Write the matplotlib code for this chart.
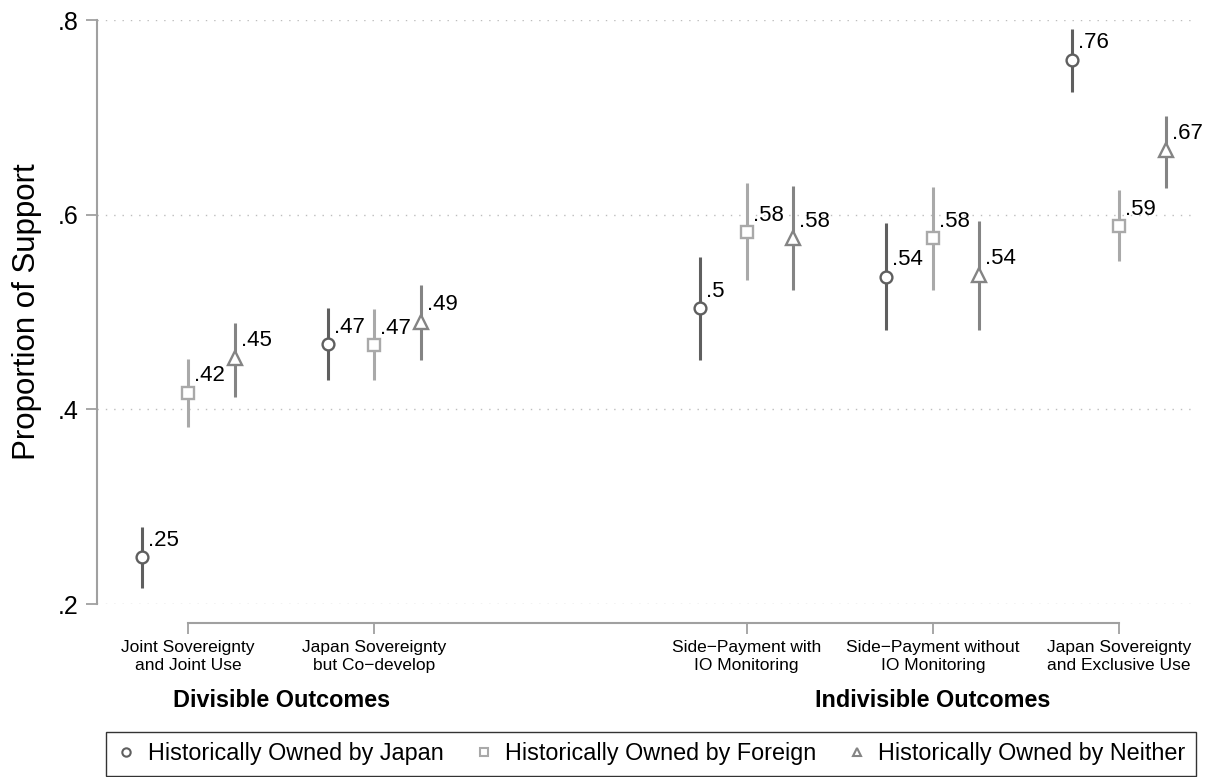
import matplotlib
matplotlib.use("Agg")
import matplotlib.pyplot as plt
from matplotlib.lines import Line2D
from matplotlib.transforms import blended_transform_factory

plt.rcParams['font.family'] = ['Liberation Sans', 'DejaVu Sans']

# Outcome categories and group headings
categories = ["Joint Sovereignty\nand Joint Use",
              "Japan Sovereignty\nbut Co\u2212develop",
              "Side\u2212Payment with\nIO Monitoring",
              "Side\u2212Payment without\nIO Monitoring",
              "Japan Sovereignty\nand Exclusive Use"]
group_names = ["Divisible Outcomes", "Indivisible Outcomes"]
series_names = ["Historically Owned by Japan",
                "Historically Owned by Foreign",
                "Historically Owned by Neither"]

# Estimated proportions with 95% confidence bounds
japan = [0.248, 0.467, 0.504, 0.536, 0.759]
japan_lo = [0.216, 0.430, 0.451, 0.482, 0.726]
japan_hi = [0.279, 0.504, 0.556, 0.591, 0.791]

foreign = [0.417, 0.466, 0.582, 0.576, 0.588]
foreign_lo = [0.382, 0.430, 0.533, 0.523, 0.552]
foreign_hi = [0.452, 0.503, 0.633, 0.628, 0.625]

neither = [0.453, 0.490, 0.576, 0.538, 0.666]
neither_lo = [0.413, 0.451, 0.523, 0.482, 0.627]
neither_hi = [0.489, 0.528, 0.629, 0.593, 0.701]

y_ticks = [0.2, 0.4, 0.6, 0.8]
y_ticklabels = [".2", ".4", ".6", ".8"]

# Layout: category slots (gap between the two outcome groups)
slots = [1, 2, 4, 5, 6]
offsets = [-0.25, 0.0, 0.25]
group_centers = [1.5, 5.0]

colors = ["#5f5f5f", "#a9a9a9", "#848484"]
markers = ["o", "s", "^"]
msizes = [8.5, 8, 9.5]


def fmt(v):
    s = f"{v:.2f}"
    if s.startswith("0"):
        s = s[1:]
    s = s.rstrip("0").rstrip(".")
    return s


fig = plt.figure(figsize=(12.06, 7.77), dpi=100)
ax = fig.add_axes([97 / 1206, 1 - 604 / 777, (1195 - 97) / 1206, 584 / 777])

series = [(japan, japan_lo, japan_hi),
          (foreign, foreign_lo, foreign_hi),
          (neither, neither_lo, neither_hi)]

for k, (vals, lo, hi) in enumerate(series):
    xs = [s + offsets[k] for s in slots]
    ax.vlines(xs, lo, hi, color=colors[k], lw=2.2, zorder=3)
    ax.plot(xs, vals, linestyle="none", marker=markers[k], ms=msizes[k],
            mfc="white", mec=colors[k], mew=1.7, zorder=4, clip_on=False)
    for x, v in zip(xs, vals):
        ax.annotate(fmt(v), (x, v), xytext=(6, 17), textcoords="offset pixels",
                    ha="left", va="center", fontsize=16, color="black", zorder=5)

ax.set_xlim(0.511, 6.408)
ax.set_ylim(0.2, 0.8)

# Y axis
ax.set_yticks(y_ticks)
ax.set_yticklabels(y_ticklabels, fontsize=18)
ax.tick_params(axis="y", length=8, width=1.3, color="#a0a0a0", pad=5)
ax.grid(axis="y", linestyle=(0, (1, 5)), color="#bdbdbd", lw=1.0)
ax.set_axisbelow(True)
ax.spines["left"].set_color("#a0a0a0")
ax.spines["left"].set_linewidth(1.5)
ax.spines["top"].set_visible(False)
ax.spines["right"].set_visible(False)
ax.set_ylabel("Proportion of Support", fontsize=22.5)
ax.yaxis.set_label_coords(-0.05, 0.5)

# X axis as a detached bracket under the plot
ax.spines["bottom"].set_position(("outward", 13.7))
ax.spines["bottom"].set_bounds(slots[0], slots[-1])
ax.spines["bottom"].set_color("#a0a0a0")
ax.spines["bottom"].set_linewidth(1.5)
ax.set_xticks(slots)
ax.set_xticklabels(categories, fontsize=12.5, linespacing=1.25)
ax.tick_params(axis="x", length=8, width=1.3, color="#a0a0a0", pad=4)

trans = blended_transform_factory(ax.transData, fig.transFigure)
for gx, name in zip(group_centers, group_names):
    ax.text(gx, 1 - 707 / 777, name, transform=trans, ha="center", va="baseline",
            fontsize=16.8, fontweight="bold")

handles = [Line2D([], [], linestyle="none", marker=markers[k], ms=6,
                  mfc="white", mec=colors[k], mew=1.5) for k in range(3)]
leg = fig.legend(handles, series_names, loc="lower left", ncol=3, mode="expand",
                 bbox_to_anchor=(106 / 1206, 1 / 777, 1090 / 1206, 43 / 777),
                 fontsize=16.8, frameon=True, fancybox=False,
                 edgecolor="black", handlelength=0.8, handletextpad=0.52,
                 columnspacing=1.0, borderpad=0.46, borderaxespad=0.0)
leg.get_frame().set_linewidth(1.0)

fig.savefig("out.png", dpi=100, facecolor="white")
